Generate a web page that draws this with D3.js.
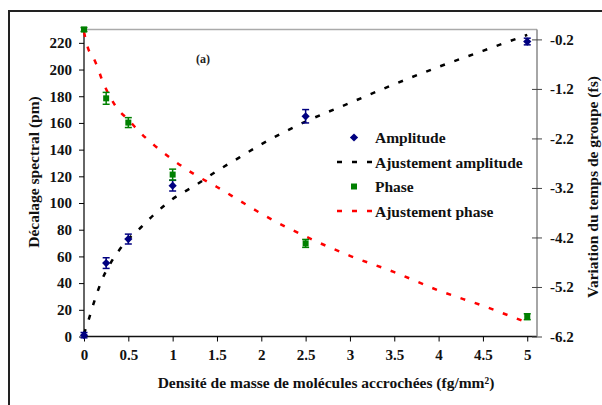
<!DOCTYPE html>
<html>
<head>
<meta charset="utf-8">
<script src="https://cdn.jsdelivr.net/npm/d3@7"></script>
<style>
  body { margin: 0; background: #fff; }
  text { font-family: "Liberation Serif", "Times New Roman", serif; font-weight: bold; }
</style>
</head>
<body>
<div id="graph"></div>
<script>
// measured points
var masses = [0, 0.25, 0.5, 1, 2.5, 5];
var amplitude = [1, 55, 73, 113, 165, 221];
var amplitudeErr = [2, 4, 3.7, 4, 5, 2.5];
var phase = [0, -1.39, -1.88, -2.93, -4.32, -5.8];
var phaseErr = [0.04, 0.12, 0.1, 0.11, 0.08, 0.06];

// fitted curves
var fitX = [0, 0.05, 0.1, 0.15, 0.2, 0.3, 0.4, 0.5, 0.6, 0.8, 1, 1.25, 1.5, 1.75, 2, 2.5, 3, 3.5, 4, 4.5, 5];
var fitAmplitude = [2, 12, 23, 33, 42, 55, 65, 73, 79, 92, 103, 113, 124, 134, 144, 161, 175, 189, 202, 214, 226];
var fitPhase = [-0.05, -0.4, -0.55, -0.75, -1.0, -1.38, -1.65, -1.82, -2.02, -2.35, -2.63, -2.93, -3.18, -3.45, -3.72, -4.18, -4.57, -4.9, -5.27, -5.58, -5.92];

var xTicks = [0, 0.5, 1, 1.5, 2, 2.5, 3, 3.5, 4, 4.5, 5];
var leftTicks = [0, 20, 40, 60, 80, 100, 120, 140, 160, 180, 200, 220];
var rightTicks = [-6.2, -5.2, -4.2, -3.2, -2.2, -1.2, -0.2];

var legendLabels = ["Amplitude", "Ajustement amplitude", "Phase", "Ajustement phase"];

var width = 602;
var height = 405;

var svg = d3.select('#graph')
    .append('svg')
    .attr('width', width)
    .attr('height', height);

svg.append('rect').attr('width', width).attr('height', height).attr('fill', '#fff');

// outer frame
svg.append('rect')
    .attr('x', 9).attr('y', 11)
    .attr('width', 620).attr('height', 420)
    .attr('fill', 'none').attr('stroke', '#222').attr('stroke-width', 2);

var pLeft = 84, pRight = 537, pTop = 29.5, pBottom = 336.5;

var x = d3.scaleLinear().domain([0, 5.11]).range([pLeft, pRight]);
var yL = d3.scaleLinear().domain([0, 230]).range([pBottom, pTop]);
var yR = d3.scaleLinear().domain([-6.2, 0]).range([pBottom, pTop]);

// plot area border on top
svg.append('line')
    .attr('x1', pLeft).attr('x2', pRight).attr('y1', pTop).attr('y2', pTop)
    .attr('stroke', '#aaa').attr('stroke-width', 1.5);

var fmt = function(d) { return String(d); };

var xAxis = svg.append('g')
    .attr('transform', 'translate(0,' + pBottom + ')')
    .call(d3.axisBottom(x).tickValues(xTicks).tickFormat(fmt).tickSize(5).tickSizeOuter(0).tickPadding(8));
xAxis.select('.domain').attr('d', 'M' + pLeft + ',0H' + pRight).attr('stroke', '#111').attr('stroke-width', 1.5);

var yAxisL = svg.append('g')
    .attr('transform', 'translate(' + pLeft + ',0)')
    .call(d3.axisLeft(yL).tickValues(leftTicks).tickFormat(fmt).tickSize(5).tickSizeOuter(0).tickPadding(7));
yAxisL.select('.domain').attr('d', 'M0,' + pTop + 'V' + pBottom).attr('stroke', '#333').attr('stroke-width', 1.5);

var yAxisR = svg.append('g')
    .attr('transform', 'translate(' + pRight + ',0)')
    .call(d3.axisRight(yR).tickValues(rightTicks).tickFormat(function(d) { return d.toFixed(1); })
        .tickSize(5).tickSizeOuter(0).tickPadding(8));
yAxisR.select('.domain').attr('d', 'M0,' + pTop + 'V' + pBottom).attr('stroke', '#888').attr('stroke-width', 1.5);
yAxisR.selectAll('.tick line').attr('x1', -5).attr('stroke', '#444');

svg.selectAll('.tick text')
    .attr('font-size', 15)
    .attr('font-family', '"Liberation Serif", "Times New Roman", serif')
    .attr('font-weight', 'bold')
    .attr('fill', '#111');

// axis titles
svg.append('text')
    .attr('x', 326).attr('y', 388)
    .attr('text-anchor', 'middle').attr('font-size', 15.5).attr('fill', '#111')
    .text('Densité de masse de molécules accrochées (fg/mm²)');

svg.append('text')
    .attr('transform', 'translate(39,172) rotate(-90)')
    .attr('text-anchor', 'middle').attr('font-size', 15.5).attr('fill', '#111')
    .text('Décalage spectral (pm)');

svg.append('text')
    .attr('transform', 'translate(598,187) rotate(-90)')
    .attr('text-anchor', 'middle').attr('font-size', 15.5).attr('fill', '#111')
    .text('Variation du temps de groupe (fs)');

svg.append('text')
    .attr('x', 203).attr('y', 63)
    .attr('text-anchor', 'middle').attr('font-size', 12).attr('fill', '#222')
    .text('(a)');

// fit lines
var ampLine = d3.line()
    .x(function(d, i) { return x(fitX[i]); })
    .y(function(d) { return yL(d); })
    .curve(d3.curveMonotoneX);

var phaseLine = d3.line()
    .x(function(d, i) { return x(fitX[i]); })
    .y(function(d) { return yR(d); })
    .curve(d3.curveMonotoneX);

svg.append('path')
    .attr('d', ampLine(fitAmplitude))
    .attr('fill', 'none').attr('stroke', '#000')
    .attr('stroke-width', 2.5).attr('stroke-dasharray', '5,10');

svg.append('path')
    .attr('d', phaseLine(fitPhase))
    .attr('fill', 'none').attr('stroke', '#ff0000')
    .attr('stroke-width', 2.5).attr('stroke-dasharray', '5,10');

// error bars
function errorBars(vals, errs, scale, color) {
    var g = svg.append('g').attr('stroke', color).attr('stroke-width', 1.5);
    g.selectAll('.v').data(vals).enter().append('line')
        .attr('x1', function(d, i) { return x(masses[i]); })
        .attr('x2', function(d, i) { return x(masses[i]); })
        .attr('y1', function(d, i) { return scale(d - errs[i]); })
        .attr('y2', function(d, i) { return scale(d + errs[i]); });
    [-1, 1].forEach(function(s) {
        g.selectAll('.c' + s).data(vals).enter().append('line')
            .attr('x1', function(d, i) { return x(masses[i]) - 3.5; })
            .attr('x2', function(d, i) { return x(masses[i]) + 3.5; })
            .attr('y1', function(d, i) { return scale(d + s * errs[i]); })
            .attr('y2', function(d, i) { return scale(d + s * errs[i]); });
    });
}

errorBars(amplitude, amplitudeErr, yL, '#000080');
errorBars(phase, phaseErr, yR, '#008000');

var diamond = d3.symbol().type(d3.symbolSquare).size(34);
var square = d3.symbol().type(d3.symbolSquare).size(36);

svg.append('g').selectAll('path').data(amplitude).enter().append('path')
    .attr('d', diamond)
    .attr('transform', function(d, i) { return 'translate(' + x(masses[i]) + ',' + yL(d) + ') rotate(45)'; })
    .attr('fill', '#000080');

svg.append('g').selectAll('path').data(phase).enter().append('path')
    .attr('d', square)
    .attr('transform', function(d, i) { return 'translate(' + x(masses[i]) + ',' + yR(d) + ')'; })
    .attr('fill', '#008000');

// legend
var legend = svg.append('g');
var rowY = [137.5, 162, 186.5, 211];

legend.append('path').attr('d', diamond)
    .attr('transform', 'translate(354,' + rowY[0] + ') rotate(45)').attr('fill', '#000080');
legend.append('line').attr('x1', 337).attr('x2', 374).attr('y1', rowY[1]).attr('y2', rowY[1])
    .attr('stroke', '#000').attr('stroke-width', 2.5).attr('stroke-dasharray', '5,10');
legend.append('path').attr('d', square)
    .attr('transform', 'translate(354,' + rowY[2] + ')').attr('fill', '#008000');
legend.append('line').attr('x1', 337).attr('x2', 374).attr('y1', rowY[3]).attr('y2', rowY[3])
    .attr('stroke', '#ff0000').attr('stroke-width', 2.5).attr('stroke-dasharray', '5,10');

legend.selectAll('text').data(legendLabels).enter().append('text')
    .attr('x', 375)
    .attr('y', function(d, i) { return rowY[i] + 5.5; })
    .attr('font-size', 15.5).attr('fill', '#111')
    .text(function(d) { return d; });
</script>
</body>
</html>
